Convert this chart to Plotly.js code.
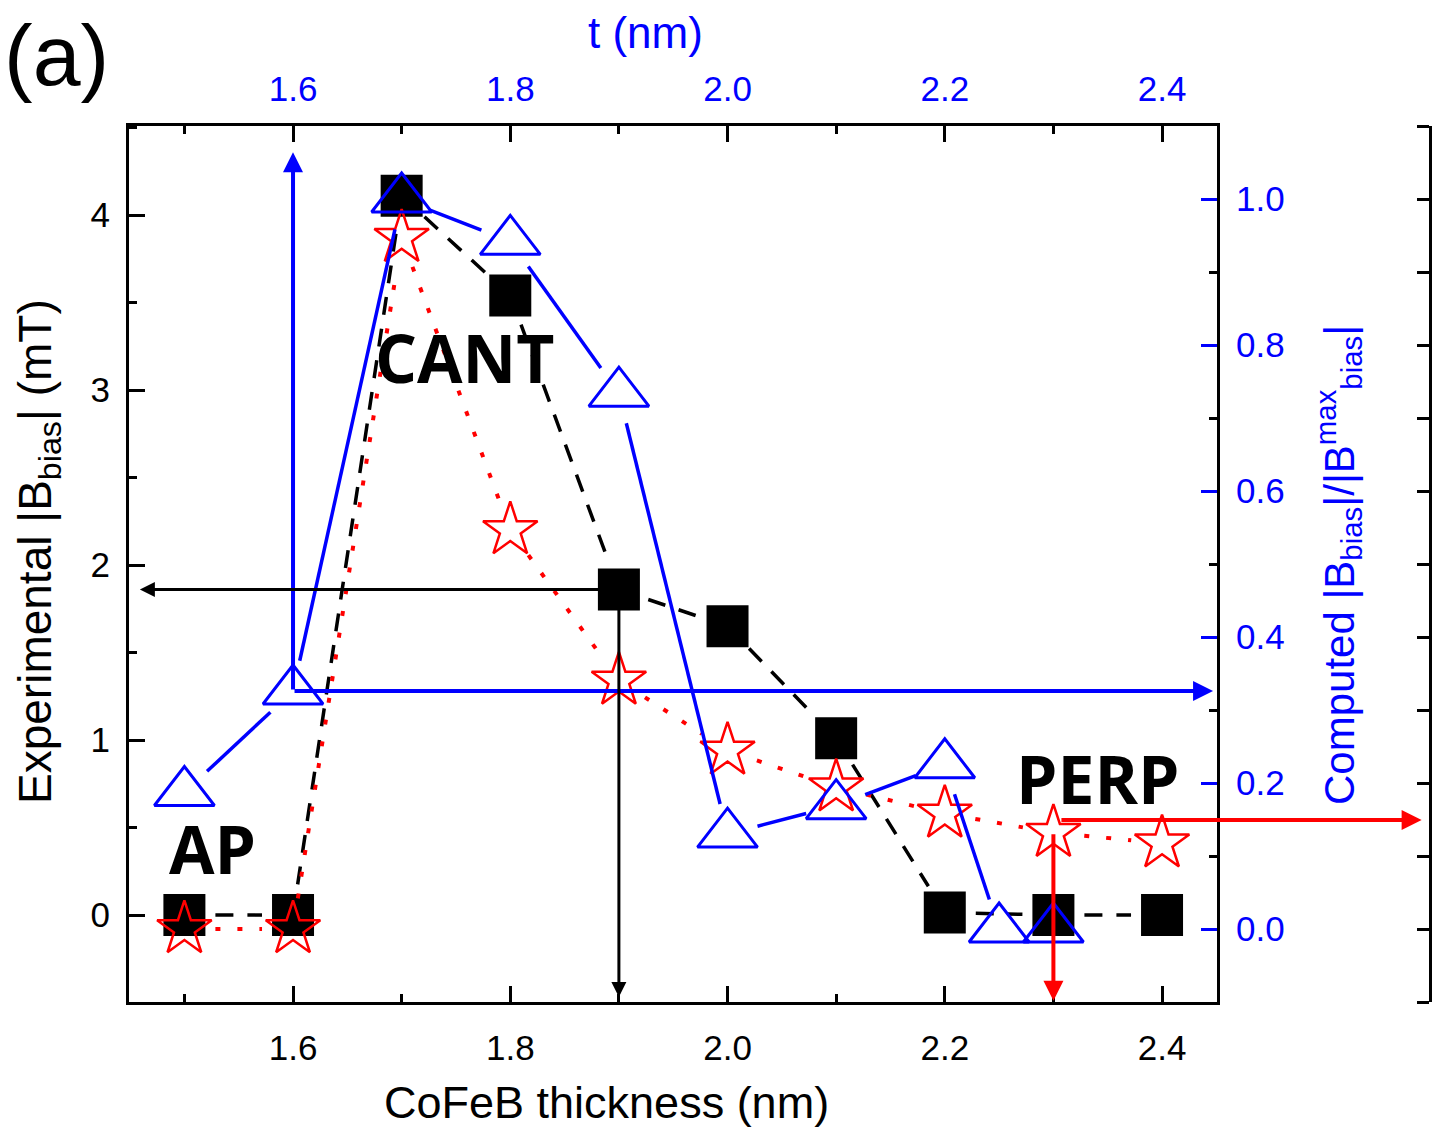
<!DOCTYPE html>
<html><head><meta charset="utf-8">
<script src="https://cdn.plot.ly/plotly-3.0.1.min.js"></script>
<style>html,body{margin:0;padding:0;background:#fff}#chart{width:1436px;height:1127px}</style>
</head><body><div id="chart"></div>
<script>
// ---- data ----
const thickness    = [1.5, 1.6, 1.7, 1.8, 1.9, 2.0, 2.1, 2.2, 2.3, 2.4];
const expBias      = [0.0, 0.0, 4.11, 3.54, 1.86, 1.65, 1.01, 0.014, 0.0, 0.0];
const starBias     = [-0.08, -0.08, 3.87, 2.2, 1.34, 0.94, 0.73, 0.58, 0.47, 0.41];
const tValues      = [1.5, 1.6, 1.7, 1.8, 1.9, 2.0, 2.1, 2.2, 2.25, 2.3];
const computedBias = [0.187, 0.326, 1.0, 0.942, 0.734, 0.130, 0.169, 0.225, 0.0, 0.0];

// ---- ticks ----
const xTickVals  = [1.6, 1.8, 2.0, 2.2, 2.4];
const xTickText  = ['1.6', '1.8', '2.0', '2.2', '2.4'];
const xMinorVals = [1.5, 1.7, 1.9, 2.1, 2.3];
const yTickVals  = [0, 1, 2, 3, 4];
const yTickText  = ['0', '1', '2', '3', '4'];
const yMinorVals = [-0.5, 0.5, 1.5, 2.5, 3.5, 4.5];
const y2TickVals = [0, 0.2, 0.4, 0.6, 0.8, 1.0];
const y2TickText = ['0.0', '0.2', '0.4', '0.6', '0.8', '1.0'];
const y2MinorVals = [-0.1, 0.1, 0.3, 0.5, 0.7, 0.9, 1.1];

// ---- labels ----
const regionLabels = ['CANT', 'AP', 'PERP'];
const regionX = [1.758, 1.5255, 2.3408];
const regionY = [3.19, 0.383, 0.783];

const BLUE = '#0000ff', RED = '#ff0000', BLACK = '#000000';
const GAP = 31;
const FONT = 'Liberation Sans, Arial, sans-serif';

const traces = [
  {x: [], y: [], xaxis: 'x', yaxis: 'y', mode: 'lines', line: {color: BLACK, width: 3.5, dash: '18px,14px'}, hoverinfo: 'skip'},
  {x: thickness, y: expBias, xaxis: 'x', yaxis: 'y', mode: 'markers',
   marker: {symbol: 'square', size: 42, color: BLACK, line: {width: 0}}},
  {x: [], y: [], xaxis: 'x2', yaxis: 'y2', mode: 'lines', line: {color: BLUE, width: 3.5}, hoverinfo: 'skip'},
  {x: tValues, y: computedBias, xaxis: 'x2', yaxis: 'y2', mode: 'markers',
   marker: {symbol: 'triangle-up-open', size: 52, color: BLUE, line: {width: 3, color: BLUE}}},
  {x: [], y: [], xaxis: 'x', yaxis: 'y3', mode: 'lines', line: {color: RED, width: 4, dash: '5px,17px'}, hoverinfo: 'skip'},
  {x: thickness, y: starBias, xaxis: 'x', yaxis: 'y3', mode: 'markers',
   marker: {symbol: 'star-open', size: 41, color: RED, line: {width: 2.5, color: RED}}},
  {x: [], y: [], xaxis: 'x', yaxis: 'y4', mode: 'markers', hoverinfo: 'skip'}
];

const W = 1436, H = 1127;
const L = 129, R = 6, T = 126, B = 125;
const plotW = W - L - R, plotH = H - T - B;
const xDomEnd = (1217 - L) / plotW;
const px = p => (p - L) / plotW;
const py = p => (H - B - p) / plotH;

const tickFont = {family: FONT, size: 35, color: BLACK};
const baseAxis = {showgrid: false, zeroline: false, showline: true, linecolor: BLACK, linewidth: 3,
  ticks: 'inside', ticklen: 16, tickwidth: 3, tickcolor: BLACK};

const xRange = [1.449, 2.4506];
const yRange = [-0.497, 4.509];
const y2Range = [-0.1, 1.1];

const annotations = [];
// titles
annotations.push({xref: 'paper', yref: 'paper', x: px(606), y: py(1102), text: 'CoFeB thickness (nm)', showarrow: false,
  font: {family: FONT, size: 45, color: BLACK}, xanchor: 'center', yanchor: 'middle'});
annotations.push({xref: 'paper', yref: 'paper', x: px(645), y: py(33), text: 't (nm)', showarrow: false,
  font: {family: FONT, size: 44, color: BLUE}, xanchor: 'center', yanchor: 'middle'});
annotations.push({xref: 'paper', yref: 'paper', x: px(38), y: py(552), text: 'Experimental |B<sub>bias</sub>| (mT)', showarrow: false,
  textangle: -90, font: {family: FONT, size: 46, color: BLACK}, xanchor: 'center', yanchor: 'middle'});
annotations.push({xref: 'paper', yref: 'paper', x: px(1338), y: py(565), text: 'Computed |B<sub>bias</sub>|/|B<sup>max</sup><sub>bias</sub>|', showarrow: false,
  textangle: -90, font: {family: FONT, size: 42, color: BLUE}, xanchor: 'center', yanchor: 'middle'});
annotations.push({xref: 'paper', yref: 'paper', x: px(2), y: py(55), text: '(a)', showarrow: false,
  font: {family: FONT, size: 86, color: BLACK}, xanchor: 'left', yanchor: 'middle'});
regionLabels.forEach((t, i) => annotations.push({xref: 'x', yref: 'y', x: regionX[i], y: regionY[i], text: '<b>' + t + '</b>',
  showarrow: false, font: {family: 'Open Sans, sans-serif', size: 66, color: BLACK}, xanchor: 'center', yanchor: 'middle'}));

// arrows (head at x,y ; tail at ax,ay)
function arrow(xref, yref, x, y, ax, ay, color, width) {
  return {xref: xref, yref: yref, axref: xref, ayref: yref, x: x, y: y, ax: ax, ay: ay, text: '',
    showarrow: true, arrowhead: 2, arrowsize: 1, arrowwidth: width, arrowcolor: color, standoff: 0, startstandoff: 0};
}
annotations.push(arrow('x2', 'y2', tValues[1], 1.064, tValues[1], computedBias[1], BLUE, 4));
annotations.push(arrow('x2', 'y2', 2.447, computedBias[1], tValues[1], computedBias[1], BLUE, 4));
annotations.push(arrow('x', 'y', 1.459, expBias[4], thickness[4], expBias[4], BLACK, 3));
annotations.push(arrow('x', 'y', thickness[4], -0.469, thickness[4], expBias[4], BLACK, 3));
annotations.push(arrow('x', 'y', 2.639, 0.543, 2.306, 0.543, RED, 4));
annotations.push(arrow('x', 'y', thickness[8], -0.49, thickness[8], starBias[8], RED, 4));

const layout = {
  width: W, height: H, margin: {l: L, r: R, t: T, b: B, pad: 0},
  paper_bgcolor: '#fff', plot_bgcolor: 'rgba(0,0,0,0)', showlegend: false,
  xaxis: Object.assign({}, baseAxis, {domain: [0, xDomEnd], range: xRange, anchor: 'y', side: 'bottom',
    tickmode: 'array', tickvals: xTickVals, ticktext: xTickText, tickfont: tickFont, ticklabelstandoff: 13,
    minor: {tickmode: 'array', tickvals: xMinorVals, ticks: 'inside', ticklen: 8, tickwidth: 3, tickcolor: BLACK}}),
  xaxis2: Object.assign({}, baseAxis, {domain: [0, xDomEnd], range: xRange, overlaying: 'x', anchor: 'y2', side: 'top',
    tickmode: 'array', tickvals: xTickVals, ticktext: xTickText, tickfont: Object.assign({}, tickFont, {color: BLUE}), ticklabelstandoff: 8,
    minor: {tickmode: 'array', tickvals: xMinorVals, ticks: 'inside', ticklen: 8, tickwidth: 3, tickcolor: BLACK}}),
  yaxis: Object.assign({}, baseAxis, {domain: [0, 1], range: yRange, anchor: 'x', side: 'left',
    tickmode: 'array', tickvals: yTickVals, ticktext: yTickText, tickfont: tickFont, ticklabelstandoff: 9,
    minor: {tickmode: 'array', tickvals: yMinorVals, ticks: 'inside', ticklen: 8, tickwidth: 3, tickcolor: BLACK}}),
  yaxis2: Object.assign({}, baseAxis, {domain: [0, 1], range: y2Range, overlaying: 'y', anchor: 'x2', side: 'right',
    tickmode: 'array', tickvals: y2TickVals, ticktext: y2TickText, tickcolor: BLUE, tickfont: Object.assign({}, tickFont, {color: BLUE}), ticklabelstandoff: 9,
    minor: {tickmode: 'array', tickvals: y2MinorVals, ticks: 'inside', ticklen: 8, tickwidth: 3, tickcolor: BLACK}}),
  yaxis3: {domain: [0, 1], range: yRange, overlaying: 'y', anchor: 'x', visible: false, showgrid: false, zeroline: false},
  yaxis4: Object.assign({}, baseAxis, {domain: [0, 1], range: y2Range, overlaying: 'y', anchor: 'free', position: 1, side: 'left',
    ticks: 'outside', ticklen: 12, showticklabels: false, tickmode: 'array',
    tickvals: y2MinorVals.concat(y2TickVals)}),
  annotations: annotations
};

function gapped(xs, ys, xa, ya, gap) {
  const X = [], Y = [];
  for (let i = 0; i < xs.length - 1; i++) {
    const x0 = xa.l2p(xs[i]), y0 = ya.l2p(ys[i]);
    const x1 = xa.l2p(xs[i + 1]), y1 = ya.l2p(ys[i + 1]);
    const dx = x1 - x0, dy = y1 - y0, d = Math.hypot(dx, dy);
    if (d <= 2 * gap + 2) continue;
    const ux = dx / d, uy = dy / d;
    X.push(xa.p2l(x0 + ux * gap), xa.p2l(x1 - ux * gap), null);
    Y.push(ya.p2l(y0 + uy * gap), ya.p2l(y1 - uy * gap), null);
  }
  return {x: X, y: Y};
}

const gd = document.getElementById('chart');
Plotly.newPlot(gd, traces, layout, {staticPlot: true, displayModeBar: false}).then(() => {
  const fl = gd._fullLayout;
  const a = gapped(thickness, expBias, fl.xaxis, fl.yaxis, GAP);
  const b = gapped(tValues, computedBias, fl.xaxis2, fl.yaxis2, GAP);
  const c = gapped(thickness, starBias, fl.xaxis, fl.yaxis3, GAP);
  return Plotly.restyle(gd, {x: [a.x, b.x, c.x], y: [a.y, b.y, c.y]}, [0, 2, 4]);
});
</script>
</body></html>
